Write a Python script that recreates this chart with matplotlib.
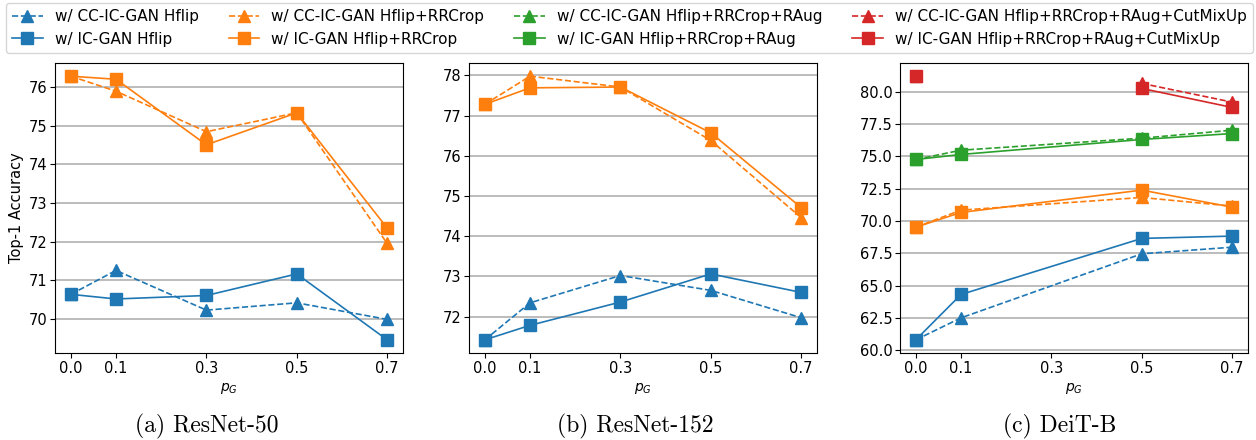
import numpy as np
import matplotlib
matplotlib.use("Agg")
import matplotlib.pyplot as plt

# x positions (p_G)
p_g = [0.0, 0.1, 0.3, 0.5, 0.7]
p_g_deit = [0.0, 0.1, 0.5, 0.7]

# ResNet-50
r50_cc_hflip = [70.63, 71.25, 70.22, 70.41, 69.98]
r50_ic_hflip = [70.63, 70.51, 70.60, 71.16, 69.45]
r50_cc_rrcrop = [76.29, 75.90, 74.85, 75.34, 71.95]
r50_ic_rrcrop = [76.29, 76.21, 74.51, 75.34, 72.35]

# ResNet-152
r152_cc_hflip = [71.42, 72.34, 73.02, 72.65, 71.97]
r152_ic_hflip = [71.42, 71.78, 72.36, 73.06, 72.60]
r152_cc_rrcrop = [77.28, 77.98, 77.71, 76.38, 74.46]
r152_ic_rrcrop = [77.28, 77.69, 77.71, 76.57, 74.71]

# DeiT-B
deit_cc_hflip = [60.80, 62.50, 67.46, 67.97]
deit_ic_hflip = [60.80, 64.31, 68.65, 68.83]
deit_cc_rrcrop = [69.52, 70.84, 71.82, 71.15]
deit_ic_rrcrop = [69.52, 70.66, 72.39, 71.07]
deit_cc_raug = [74.76, 75.48, 76.41, 77.03]
deit_ic_raug = [74.76, 75.15, 76.31, 76.77]
deit_cc_cutmix = [81.21, np.nan, 80.65, 79.20]
deit_ic_cutmix = [81.21, np.nan, 80.26, 78.79]

aug_names = ["Hflip", "Hflip+RRCrop", "Hflip+RRCrop+RAug", "Hflip+RRCrop+RAug+CutMixUp"]
colors = ["#1f77b4", "#ff7f0e", "#2ca02c", "#d62728"]
captions = ["(a) ResNet-50", "(b) ResNet-152", "(c) DeiT-B"]

panels = [
    (p_g, [(r50_cc_hflip, r50_ic_hflip), (r50_cc_rrcrop, r50_ic_rrcrop)]),
    (p_g, [(r152_cc_hflip, r152_ic_hflip), (r152_cc_rrcrop, r152_ic_rrcrop)]),
    (p_g_deit, [(deit_cc_hflip, deit_ic_hflip), (deit_cc_rrcrop, deit_ic_rrcrop),
                (deit_cc_raug, deit_ic_raug), (deit_cc_cutmix, deit_ic_cutmix)]),
]

fig = plt.figure(figsize=(12.56, 4.4), dpi=100)
lefts = [55 / 1256, 469 / 1256, 900 / 1256]
width = 348 / 1256
bottom = 1 - 353 / 440
height = 290 / 440
caption_x = [207 / 1256, 635 / 1256, 1060 / 1256]

handles = {}
for i, (xs, series) in enumerate(panels):
    ax = fig.add_axes([lefts[i], bottom, width, height])
    for k, (cc, ic) in enumerate(series):
        h1, = ax.plot(xs, cc, '--^', color=colors[k], markersize=8, linewidth=1.2,
                      label=f"w/ CC-IC-GAN {aug_names[k]}")
        h2, = ax.plot(xs, ic, '-s', color=colors[k], markersize=8, linewidth=1.2,
                      label=f"w/ IC-GAN {aug_names[k]}")
        handles[k] = (h1, h2)
    ax.set_xticks(p_g)
    ax.set_xticklabels(["0.0", "0.1", "0.3", "0.5", "0.7"])
    ax.tick_params(labelsize=10.5, pad=2)
    ax.grid(axis='y', color='#b0b0b0', linewidth=1.2)
    ax.set_axisbelow(True)
    ax.set_xlabel(r"$p_G$", fontsize=10)
    if i == 0:
        ax.set_ylabel("Top-1 Accuracy", fontsize=10.5, labelpad=3)
    fig.text(caption_x[i], 1 - 426 / 440, captions[i], ha='center', va='center',
             fontsize=17, family='cmr10')

leg_handles = []
for k in range(4):
    leg_handles += list(handles[k])
fig.legend(handles=leg_handles, loc='upper right', bbox_to_anchor=(1253 / 1256, 1 - 3 / 440),
           borderaxespad=0, ncol=4, fontsize=11, columnspacing=1.95, frameon=True)

fig.savefig("out.png", dpi=100)
